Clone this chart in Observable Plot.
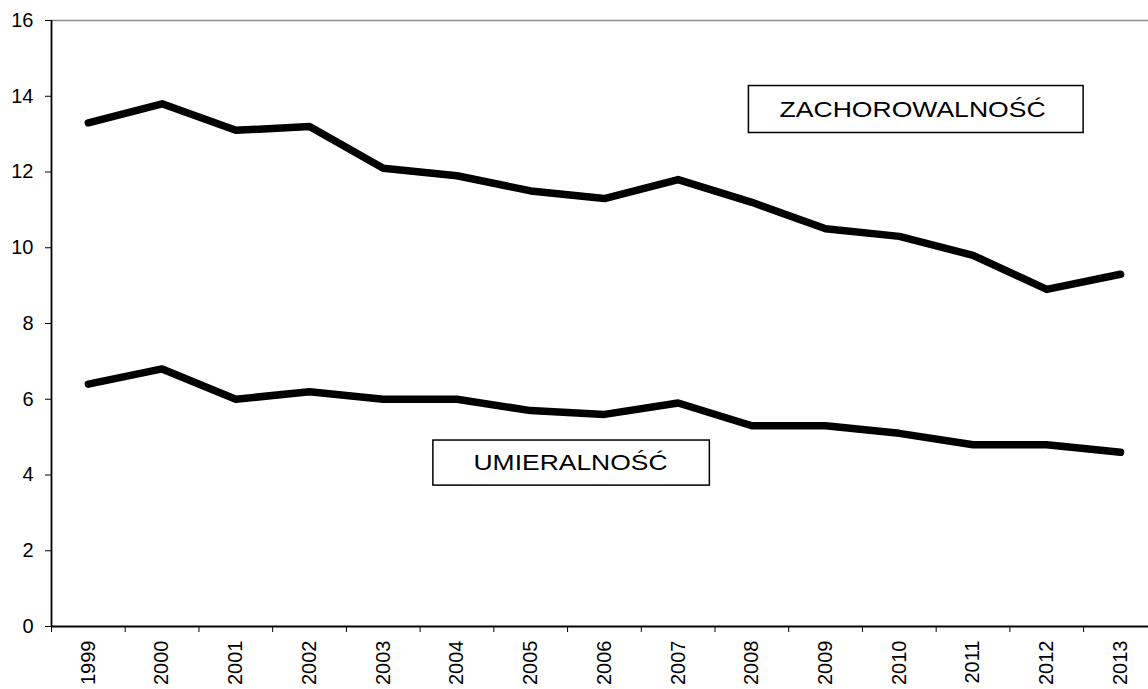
<!DOCTYPE html>
<html>
<head>
<meta charset="utf-8">
<script src="https://cdn.jsdelivr.net/npm/d3@7"></script>
<script src="https://cdn.jsdelivr.net/npm/@observablehq/plot@0.6"></script>
<style>
  html, body { margin: 0; padding: 0; background: #fff; }
  #chart svg { display: block; }
</style>
</head>
<body>
<div id="chart"></div>
<script>
const years = [1999, 2000, 2001, 2002, 2003, 2004, 2005, 2006, 2007, 2008, 2009, 2010, 2011, 2012, 2013];
const zachorowalnosc = [13.3, 13.8, 13.1, 13.2, 12.1, 11.9, 11.5, 11.3, 11.8, 11.2, 10.5, 10.3, 9.8, 8.9, 9.3];
const umieralnosc = [6.4, 6.8, 6.0, 6.2, 6.0, 6.0, 5.7, 5.6, 5.9, 5.3, 5.3, 5.1, 4.8, 4.8, 4.6];
const yTicks = [0, 2, 4, 6, 8, 10, 12, 14, 16];
const seriesNames = ["ZACHOROWALNOŚĆ", "UMIERALNOŚĆ"];

const rows = [];
years.forEach((yr, i) => {
  rows.push({year: yr, value: zachorowalnosc[i], series: seriesNames[0]});
  rows.push({year: yr, value: umieralnosc[i], series: seriesNames[1]});
});

const labels = [
  {label: seriesNames[0], x: 2010.18, y: 13.65, x1: 2007.96, x2: 2012.50, y1: 13.03, y2: 14.27, len: 266},
  {label: seriesNames[1], x: 2005.54, y: 4.31, x1: 2003.68, x2: 2007.43, y1: 3.72, y2: 4.91, len: 194}
];

const bounds = years.map(y => y - 0.5);

const chart = Plot.plot({
  width: 1148,
  height: 689,
  marginLeft: 51,
  marginRight: 0,
  marginTop: 20,
  marginBottom: 63,
  style: {fontFamily: "'Liberation Sans', Arial, sans-serif", background: "#fff", color: "#000"},
  x: {type: "linear", domain: [1998.5, 2013.38]},
  y: {domain: [0, 16]},
  marks: [
    Plot.ruleY([16], {stroke: "#8c8c8c", strokeWidth: 1.5}),
    Plot.ruleX([1998.5], {stroke: "#000", strokeWidth: 1.8}),
    Plot.ruleY([0], {stroke: "#000", strokeWidth: 1.8}),
    Plot.axisY({ticks: yTicks, tickSize: 6, tickPadding: 12, fontSize: 20, label: null, tickFormat: d => String(d)}),
    Plot.axisX({ticks: bounds, tickSize: 6, tickFormat: () => "", label: null}),
    Plot.axisX({ticks: years, tickSize: 0, tickPadding: 14, tickRotate: -90, fontSize: 20, label: null, tickFormat: d => String(d)}),
    Plot.line(rows, {x: "year", y: "value", z: "series", stroke: "#000", strokeWidth: 7.5, strokeLinecap: "round", strokeLinejoin: "round"}),
    Plot.rect(labels, {x1: "x1", x2: "x2", y1: "y1", y2: "y2", fill: "#fff", stroke: "#000", strokeWidth: 1.5}),
    Plot.text(labels, {x: "x", y: "y", text: "label", fontSize: 22, fill: "#000"})
  ]
});

document.getElementById("chart").appendChild(chart);

// enforce font sizes on axis labels
d3.select(chart).selectAll("g[aria-label='y-axis tick label'] text").style("font-size", "20px");
d3.select(chart).selectAll("g[aria-label='x-axis tick label'] text").style("font-size", "20px");

// stretch box labels horizontally as in the original
d3.select(chart).selectAll("g[aria-label='text'] text").each(function(d, i) {
  const lab = labels[i];
  if (lab) d3.select(this).style("font-size", "22px").attr("textLength", lab.len).attr("lengthAdjust", "spacingAndGlyphs");
});
</script>
</body>
</html>
